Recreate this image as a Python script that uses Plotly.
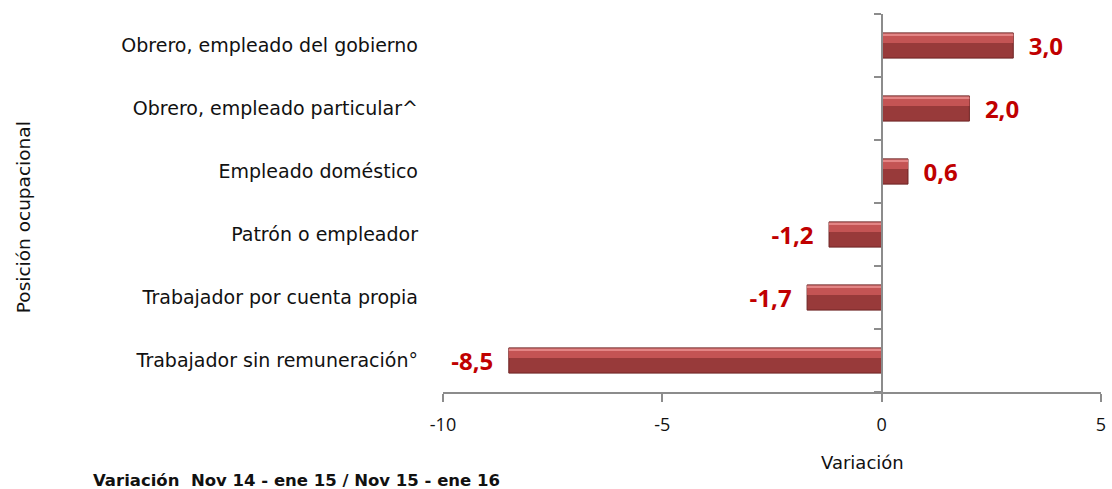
import plotly.graph_objects as go

# Occupational position categories (top to bottom) and their change
categories = [
    "Obrero, empleado del gobierno",
    "Obrero, empleado particular^",
    "Empleado doméstico",
    "Patrón o empleador",
    "Trabajador por cuenta propia",
    "Trabajador sin remuneración°",
]
variation = [3.0, 2.0, 0.6, -1.2, -1.7, -8.5]
x_ticks = [-10, -5, 0, 5]
x_tick_labels = ["-10", "-5", "0", "5"]

n = len(categories)
ypos = [n - 1 - i for i in range(n)]  # first category at the top
labels = [
    ("  " + f"{v:.1f}" if v >= 0 else f"{v:.1f}" + "  ").replace(".", ",")
    for v in variation
]

FONT = "Open Sans"
WIDE = "DejaVu Sans"
RED_TXT = "#c00000"
AXIS = "#8c8c8c"
TXT = "#111111"

fig = go.Figure()

# base bar body
fig.add_trace(go.Bar(
    x=variation, y=ypos, orientation="h", width=0.40,
    marker=dict(color="#983a3a", line=dict(color="#6e2424", width=1)),
    text=labels, textposition="outside", cliponaxis=False,
    constraintext="none",
    textfont=dict(family=FONT, size=24, color=RED_TXT, weight="bold"),
    hoverinfo="skip", showlegend=False,
))
# bevel highlight band in the upper part
fig.add_trace(go.Bar(
    x=variation, y=ypos, orientation="h", width=0.13, offset=0.04,
    marker=dict(color="#c45454", line=dict(width=0)),
    hoverinfo="skip", showlegend=False,
))
# thin light top edge
fig.add_trace(go.Bar(
    x=variation, y=ypos, orientation="h", width=0.04, offset=0.15,
    marker=dict(color="#e38585", line=dict(width=0)),
    hoverinfo="skip", showlegend=False,
))
# helper trace so the secondary axis at x = 0 is rendered
fig.add_trace(go.Scatter(
    x=[0], y=[0], yaxis="y2", mode="markers",
    marker=dict(opacity=0), hoverinfo="skip", showlegend=False,
))

PW, PH = 663, 378  # plot area size in pixels

fig.update_layout(
    width=1112, height=489,
    margin=dict(l=443, r=6, t=14, b=97),
    paper_bgcolor="white", plot_bgcolor="white",
    barmode="overlay",
    font=dict(family=FONT, color=TXT),
    xaxis=dict(
        range=[-10, 5], tickvals=x_ticks, ticktext=x_tick_labels,
        showgrid=False, zeroline=False,
        showline=True, linecolor=AXIS, linewidth=1.5,
        ticks="outside", ticklen=8, tickcolor=AXIS, tickwidth=1.5,
        ticklabelstandoff=8,
        tickfont=dict(size=18, family=FONT, color=TXT),
    ),
    yaxis=dict(
        range=[-0.5, n - 0.5], tickvals=ypos, ticktext=categories,
        showgrid=False, zeroline=False, showline=False,
        ticks="", tickfont=dict(size=19, family=WIDE, color=TXT),
        ticklabelstandoff=24,
    ),
    yaxis2=dict(
        overlaying="y", anchor="free", position=2 / 3, side="left",
        range=[-0.5, n - 0.5], tickvals=[i - 0.5 for i in range(n + 1)],
        showticklabels=False, showgrid=False, zeroline=False,
        showline=True, linecolor=AXIS, linewidth=1.5,
        ticks="outside", ticklen=7, tickcolor=AXIS, tickwidth=1.5,
    ),
    annotations=[
        dict(text="Variación", xref="paper", yref="paper",
             x=(866 - 443) / PW, y=-(462 - 392) / PH,
             xanchor="center", yanchor="middle", showarrow=False,
             font=dict(size=18, family=WIDE, color=TXT)),
        dict(text="Posición ocupacional", textangle=-90,
             xref="paper", yref="paper", x=(21 - 443) / PW, y=(392 - 217) / PH,
             xanchor="center", yanchor="middle", showarrow=False,
             font=dict(size=18.5, family=WIDE, color=TXT)),
        dict(text="<b>Variación  Nov 14 - ene 15 / Nov 15 - ene 16</b>",
             xref="paper", yref="paper", x=(88 - 443) / PW, y=-(480 - 392) / PH,
             xanchor="left", yanchor="middle", showarrow=False,
             font=dict(size=16.5, family=WIDE, color=TXT)),
    ],
)

fig.write_html("out.html")
